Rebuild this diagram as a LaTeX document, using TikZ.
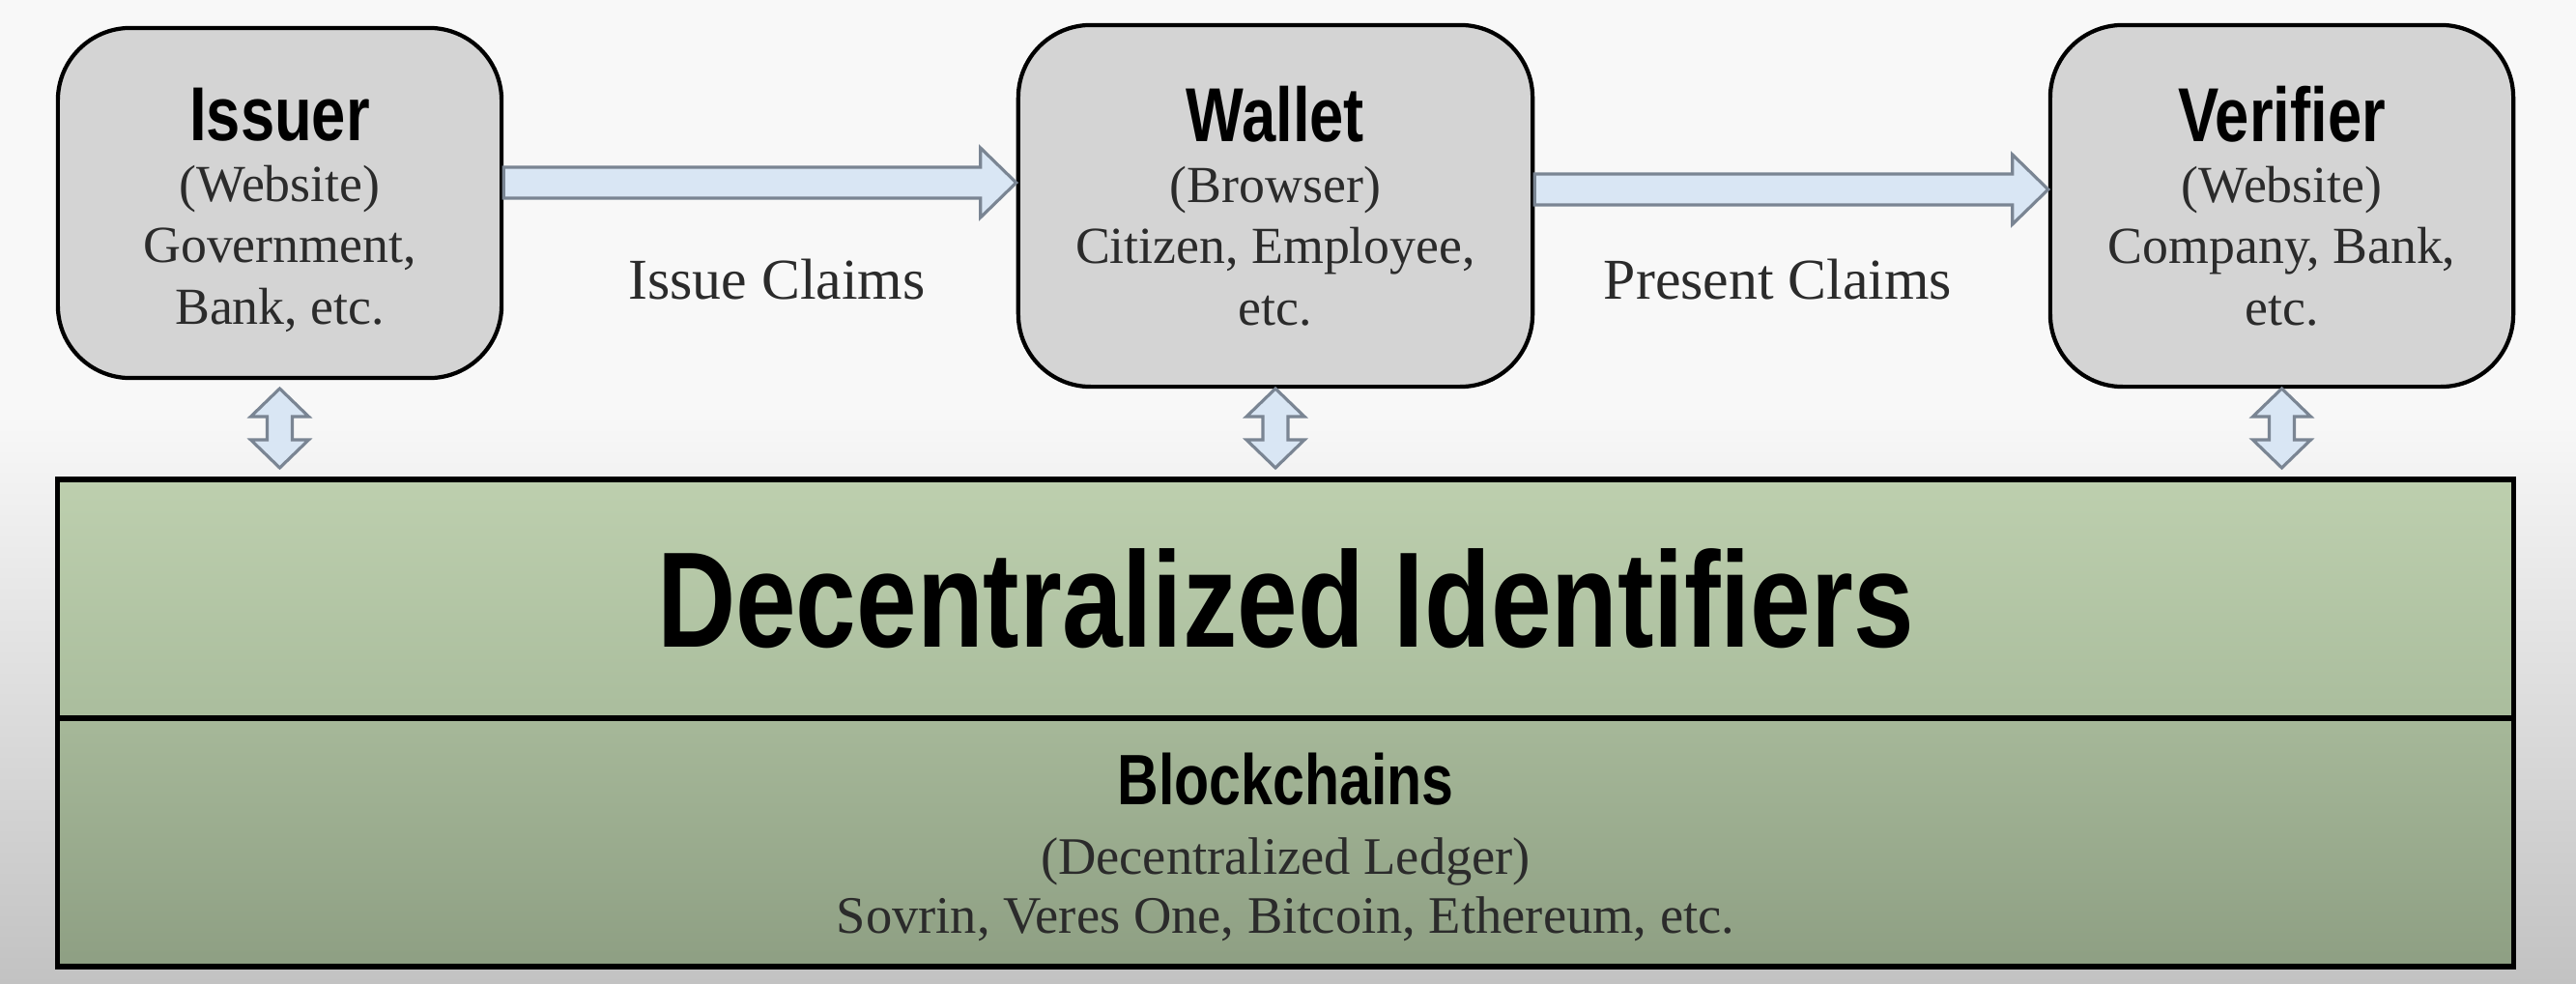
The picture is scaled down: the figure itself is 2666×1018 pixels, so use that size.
\documentclass[tikz,border=0pt]{standalone}
\usepackage{fontspec}
\setmainfont{Liberation Serif}
\newfontfamily\condfont[FakeStretch=0.8]{Liberation Sans}
\usetikzlibrary{calc}
\definecolor{bgtop}{HTML}{F8F8F8}
\definecolor{bgbot}{HTML}{C2C2C2}
\definecolor{boxgray}{HTML}{D4D4D4}
\definecolor{arrowfill}{HTML}{D9E6F4}
\definecolor{arrowdraw}{HTML}{7A8593}
\definecolor{greentop}{HTML}{BDCFAE}
\definecolor{greenmid}{HTML}{AABD9D}
\definecolor{greenmidb}{HTML}{A6B899}
\definecolor{greenbot}{HTML}{8E9F83}
\definecolor{txtgray}{HTML}{2B2B2B}
\tikzset{
  actor/.style={draw=black, line width=1.2pt, fill=boxgray, rounded corners=0.75cm,
    align=center, inner sep=0pt, text=txtgray,
    font=\fontsize{15.3}{18}\selectfont},
  barrow/.style={draw=arrowdraw, fill=arrowfill, line width=0.9pt, line join=miter},
  layer/.style={draw=black, line width=1.5pt, minimum width=25.41cm, inner sep=0pt, align=center},
  claim/.style={font=\fontsize{17}{20}\selectfont, text=txtgray, anchor=base, inner sep=0pt},
}
\newcommand{\ttlfont}{\condfont\bfseries\fontsize{22.5}{18}\selectfont\color{black}}
\newcommand{\harrow}[2]{%
  \draw[barrow] let \p1=(#1), \p2=(#2) in
    (\x1,\y1+0.16cm) -- (\x2-0.37cm,\y1+0.16cm) -- (\x2-0.37cm,\y1+0.36cm) -- (\x2,\y1)
    -- (\x2-0.37cm,\y1-0.36cm) -- (\x2-0.37cm,\y1-0.16cm) -- (\x1,\y1-0.16cm) -- cycle;}
\newcommand{\vdblarrow}[2]{%
  \draw[barrow] let \p1=(#1), \p2=(#2) in
    (\x1,\y1) -- (\x1+0.3cm,\y1-0.29cm) -- (\x1+0.13cm,\y1-0.29cm) -- (\x1+0.13cm,\y2+0.29cm)
    -- (\x1+0.3cm,\y2+0.29cm) -- (\x1,\y2) -- (\x1-0.3cm,\y2+0.29cm) -- (\x1-0.13cm,\y2+0.29cm)
    -- (\x1-0.13cm,\y1-0.29cm) -- (\x1-0.3cm,\y1-0.29cm) -- cycle;}
\begin{document}
\begin{tikzpicture}[x=0.01cm,y=-0.01cm]
% background
\fill[bgtop] (0,0) rectangle (2666,430);
\shade[top color=bgtop, bottom color=bgbot] (0,429) rectangle (2666,1018);
\useasboundingbox (0,0) rectangle (2666,1018);

% actor boxes
\node[actor, minimum width=4.59cm, minimum height=3.62cm] (issuer) at (289.5,210)
  {{\ttlfont\rule{0pt}{19.6pt}Issuer}\\(Website)\\Government,\\Bank, etc.};
\node[actor, minimum width=5.32cm, minimum height=3.74cm] (wallet) at (1320,213)
  {{\ttlfont Wallet}\\(Browser)\\Citizen, Employee,\\etc.};
\node[actor, minimum width=4.79cm, minimum height=3.74cm] (verifier) at (2361.5,213)
  {{\ttlfont Verifier}\\(Website)\\Company, Bank,\\etc.};

% layers
\node[layer, minimum height=2.47cm, top color=greentop, bottom color=greenmid] (did) at (1330.5,619.5)
  {\condfont\bfseries\fontsize{40}{48}\selectfont Decentralized Identifiers};
\node[layer, minimum height=2.57cm, top color=greenmidb, bottom color=greenbot, text=txtgray,
  font=\fontsize{15.5}{17.4}\selectfont] (chain) at (1330.5,871.5)
  {{\condfont\bfseries\fontsize{21}{17.4}\selectfont\color{black}\rule{0pt}{18pt}Blockchains}\\[3.2pt]
   (Decentralized Ledger)\\Sovrin, Veres One, Bitcoin, Ethereum, etc.};

% claim arrows
\coordinate (yI) at (0,189);
\coordinate (yP) at (0,196);
\coordinate (ia0) at (issuer.east |- yI);
\coordinate (ia1) at (wallet.west |- yI);
\coordinate (pa0) at (wallet.east |- yP);
\coordinate (pa1) at (verifier.west |- yP);
\harrow{ia0}{ia1}
\harrow{pa0}{pa1}
\node[claim] (issueLbl) at (804,309) {Issue Claims};
\node[claim] (presentLbl) at (1840,309) {Present Claims};

% double arrows to the identifier layer
\coordinate (yTop) at (0,402);
\coordinate (yBot) at (0,484);
\coordinate (d1a) at (issuer.south |- yTop);
\coordinate (d1b) at (issuer.south |- yBot);
\coordinate (d2a) at (wallet.south |- yTop);
\coordinate (d2b) at (wallet.south |- yBot);
\coordinate (d3a) at (verifier.south |- yTop);
\coordinate (d3b) at (verifier.south |- yBot);
\vdblarrow{d1a}{d1b}
\vdblarrow{d2a}{d2b}
\vdblarrow{d3a}{d3b}
\end{tikzpicture}
\end{document}
